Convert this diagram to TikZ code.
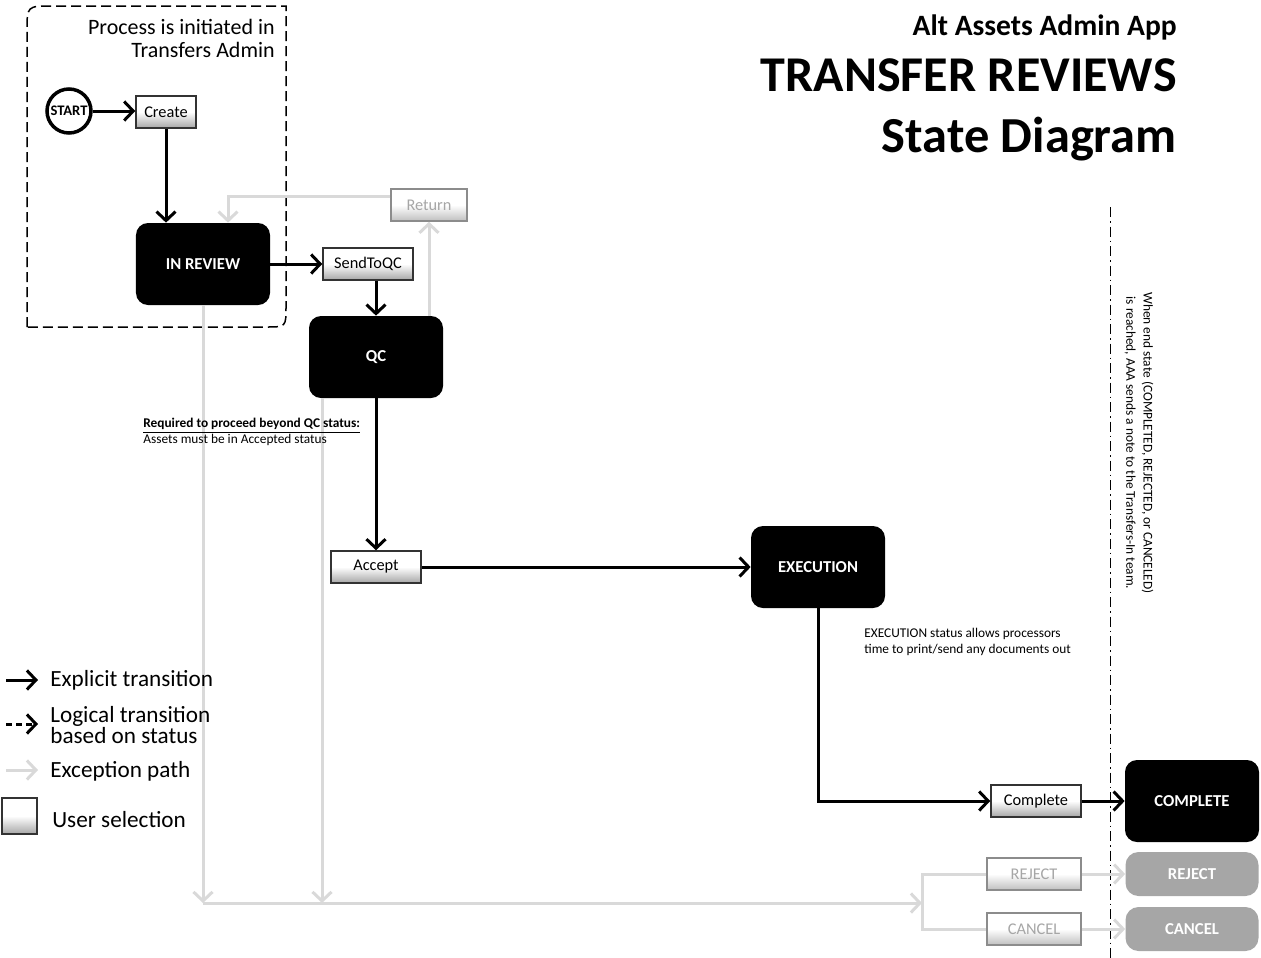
\documentclass[tikz,border=0pt]{standalone}
\usepackage{fontspec}
\setmainfont{Carlito}
\usetikzlibrary{arrows.meta, positioning}

\begin{document}
\begin{tikzpicture}[
  x=0.2mm, y=-0.2mm,
  state/.style={rectangle, rounded corners=2.4mm, fill=black, text=white, font=\fontsize{9.5}{11}\selectfont\bfseries, minimum width=26.8mm, minimum height=16.4mm, inner sep=0pt},
  endstate/.style={rectangle, rounded corners=2.6mm, fill=black!35, text=white, font=\fontsize{9.5}{11}\selectfont\bfseries, minimum width=26.6mm, minimum height=8.8mm, inner sep=0pt},
  startnode/.style={circle, draw, line width=0.7mm, minimum size=8.8mm, inner sep=0pt, font=\fontsize{8.3}{9}\selectfont\bfseries},
  choice/.style={rectangle, draw=black!80, line width=0.3mm, top color=white, bottom color=black!35, middle color=white, font=\fontsize{9.3}{11}\selectfont, minimum height=6.4mm, inner sep=0pt},
  fadedchoice/.style={choice, draw=black!45, text=black!35, bottom color=black!25, middle color=white},
  arrow/.style={-{Straight Barb[length=1.8mm, width=3.8mm]}, line width=0.6mm},
  dashedarrow/.style={arrow, dash pattern=on 1.2mm off 0.8mm},
  exception/.style={arrow, draw=black!15},
  note/.style={font=\fontsize{7.6}{9.2}\selectfont, align=left, inner sep=0pt},
  legend/.style={font=\fontsize{13.2}{12}\selectfont, anchor=west, align=left, inner sep=0pt}
]
\useasboundingbox (0,0) rectangle (1261,958);

% Title
\node[anchor=base east, inner sep=0pt, font=\fontsize{16.8}{18}\selectfont\bfseries] (titleapp) at (1177,35) {Alt Assets Admin App};
\node[anchor=base east, inner sep=0pt, font=\fontsize{28.5}{30}\selectfont\bfseries] (titlemain) at (1177,91) {TRANSFER REVIEWS};
\node[anchor=base east, inner sep=0pt, font=\fontsize{28.7}{30}\selectfont\bfseries] (titlesub) at (1177,152) {State Diagram};

% Transfers Admin area
\draw[dash pattern=on 2mm off 1mm, line width=0.3mm] (27,327) -- (27,31) .. controls (27,6) .. (52,6) -- (286,6) -- (286,307) .. controls (286,327) .. (266,327) -- cycle;
\node[anchor=north east, align=right, inner sep=0pt, font=\fontsize{12.5}{13.1}\selectfont] (initnote) at (275,19) {Process is initiated in\\Transfers Admin};

% States
\node[startnode] (start) at (69,111) {START};
\node[state] (inreview) at (203,264) {IN REVIEW};
\node[state] (qc) at (376,357) {QC};
\node[state] (execution) at (818,567) {EXECUTION};
\node[state] (completest) at (1192,801) {COMPLETE};
\node[endstate] (rejectst) at (1192,874) {REJECT};
\node[endstate] (cancelst) at (1192,929) {CANCEL};

% User selections
\node[choice, minimum width=12mm] (create) at (166,112) {Create};
\node[choice, minimum width=18mm] (sendtoqc) at (368,264) {SendToQC};
\node[fadedchoice, minimum width=15.2mm] (return) at (429,205) {Return};
\node[choice, minimum width=18mm] (accept) at (376,567) {Accept};
\node[choice, minimum width=18mm] (complete) at (1036,801) {Complete};
\node[fadedchoice, minimum width=18.8mm] (rejectbox) at (1034,874) {REJECT};
\node[fadedchoice, minimum width=18.8mm] (cancelbox) at (1034,929) {CANCEL};

% End state divider
\coordinate (divtop) at (1110,207);
\coordinate (divbot) at (1110,958);
\draw[dash pattern=on 2mm off 0.8mm on 0.3mm off 0.8mm, line width=0.2mm] (divtop) -- (divbot);

% Exception paths
\coordinate (exc) at (922,903);
\draw[exception] (return.south |- qc.north) -- (return.south);
\draw[exception] ([yshift=1.8mm]return.west) -| ([xshift=5mm]inreview.north);
\draw[exception] (inreview.south) -- (inreview.south |- exc);
\draw[exception] ([xshift=-10.8mm]qc.south) -- ([xshift=-10.8mm]qc.south |- exc);
\draw[exception] (inreview.south |- exc) -- (exc);
\draw[exception, -] (rejectbox.west) -| (exc) |- (cancelbox.west);
\foreach \b/\s in {rejectbox/rejectst, cancelbox/cancelst}
  \draw[exception] (\b) -- (\s);

% Transitions
\draw[arrow] (start.east) -- (start.east -| create.west);
\draw[arrow] (create.south) -- (create.south |- inreview.north);
\draw[arrow] (inreview) -- (sendtoqc);
\draw[arrow] (sendtoqc.south -| qc) -- (qc.north);
\draw[arrow] (qc) -- (accept);
\draw[arrow] (accept) -- (execution);
\draw[arrow] (execution.south) |- (complete.west);
\draw[arrow] (complete) -- (completest);

% Notes
\node[note, anchor=west] (qcnote) at (143,432) {\underline{\textbf{Required to proceed beyond QC status:}}\\Assets must be in Accepted status};
\node[note, anchor=west] (execnote) at (864,642) {EXECUTION status allows processors\\time to print/send any documents out};
\node[note, align=center, rotate=-90, font=\fontsize{7.6}{9.7}\selectfont] (endnote) at (1139,443) {When end state (COMPLETED, REJECTED, or CANCELED)\\is reached, AAA sends a note to the Transfers-In team.};

% Legend
\coordinate (lega1) at (6,680);  \coordinate (legb1) at (38,680);
\coordinate (lega2) at (6,724);  \coordinate (legb2) at (38,724);
\coordinate (lega3) at (6,770);  \coordinate (legb3) at (38,770);
\draw[arrow] (lega1) -- (legb1);
\draw[dashedarrow] (lega2) -- (legb2);
\draw[exception] (lega3) -- (legb3);
\node[choice, minimum width=7mm, minimum height=7.2mm] (legbox) at (19.5,816) {};
\node[legend] (legexplicit) at (50,680) {Explicit transition};
\node[legend] (leglogical) at (50,725) {Logical transition\\based on status};
\node[legend] (legexception) at (50,771) {Exception path};
\node[legend] (leguser) at (52,820) {User selection};

\end{tikzpicture}
\end{document}
